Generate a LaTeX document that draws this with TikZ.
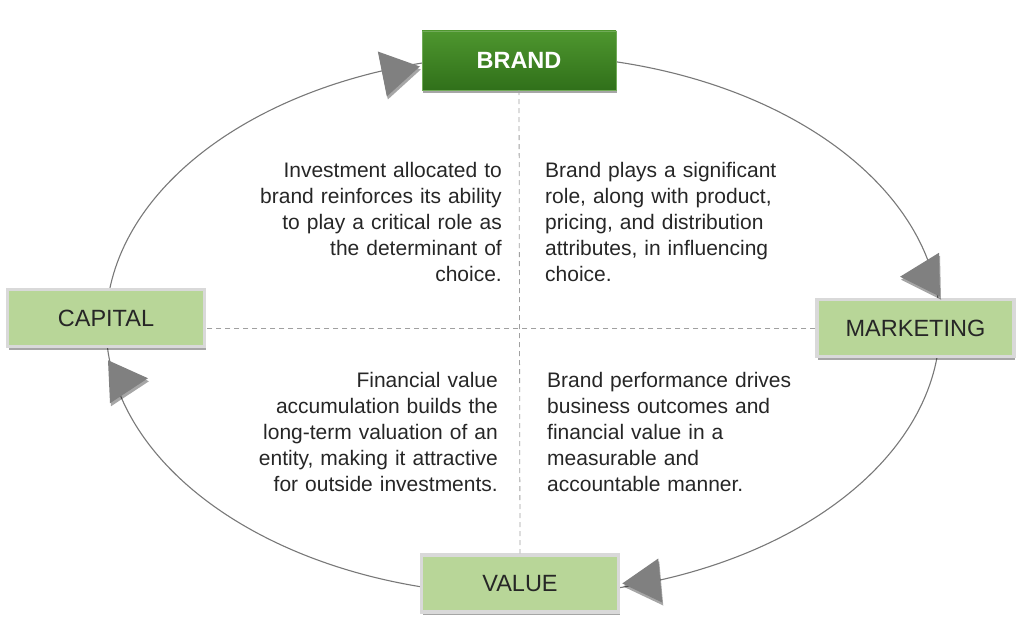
\documentclass[tikz,border=0pt]{standalone}
\usepackage{fontspec}
\setmainfont{Liberation Sans}
\usetikzlibrary{positioning,shadows,calc}
\definecolor{stagefill}{RGB}{184,214,152}
\definecolor{boxedge}{RGB}{217,217,217}
\definecolor{textgrey}{RGB}{38,38,38}
\definecolor{ringgrey}{RGB}{120,120,120}
\definecolor{dashgrey}{RGB}{160,160,160}
\definecolor{tipgrey}{RGB}{128,128,128}
\definecolor{brandtop}{RGB}{78,150,46}
\definecolor{brandbottom}{RGB}{48,112,26}
\tikzset{
    soft shadow/.style={drop shadow={shadow xshift=1pt,shadow yshift=-3pt,opacity=.35,fill=black}},
    stage box/.style={draw=boxedge,line width=3.5pt,fill=stagefill,minimum width=197pt,minimum height=57pt,
        text=textgrey,font=\fontsize{23.5}{26}\selectfont,soft shadow},
    brand box/.style={draw=brandtop!80!white,thin,top color=brandtop,bottom color=brandbottom,
        minimum width=194pt,minimum height=59pt,text=white,font=\fontsize{23.5}{26}\selectfont\bfseries,soft shadow},
    ring/.style={draw=ringgrey,line width=1.1pt},
    divider/.style={draw=dashgrey,line width=.8pt,dash pattern=on 5pt off 4pt},
    bigtip/.style={fill=tipgrey,soft shadow},
    note/.style={inner sep=0pt,text width=300pt,text=textgrey,font=\fontsize{21}{26}\selectfont},
}

\begin{document}
\begin{tikzpicture}[x=1pt,y=1pt]
    \useasboundingbox (0,0) rectangle (1024,633);
    \coordinate (centre) at (523,308);

    % the cycle
    \draw[ring] (centre) ++(175:417 and 270) arc[start angle=175,end angle=100,x radius=417,y radius=270];
    \draw[ring] (centre) ++(80:417 and 270) arc[start angle=80,end angle=3,x radius=417,y radius=270];
    \draw[ring] (centre) ++(-3:417 and 270) arc[start angle=-3,end angle=-80,x radius=417,y radius=270];
    \draw[ring] (centre) ++(-100:417 and 270) arc[start angle=-100,end angle=-178,x radius=417,y radius=270];

    \node[brand box] (brand) at (519,572.5) {BRAND};
    \node[stage box] (capital) at (106,315) {CAPITAL};
    \node[stage box] (marketing) at (915.5,305) {MARKETING};
    \node[stage box] (value) at (520,49.5) {VALUE};

    \draw[divider] (brand.south) -- (value.north);
    \draw[divider] (marketing.west) -- (marketing.west -| capital.east);

    \fill[bigtip] ([xshift=-2pt,yshift=-6pt]brand.west) -- ++(-42,15) -- ++(9,-45) -- cycle;
    \fill[bigtip] ([xshift=-15.5pt,yshift=21pt]marketing.north) -- ++(39,24) -- ++(1,-44) -- cycle;
    \fill[bigtip] ([xshift=2pt]value.east) -- ++(36,25) -- ++(4,-44) -- cycle;
    \fill[bigtip] ([xshift=42pt,yshift=-30pt]capital.south) -- ++(-40,18) -- ++(2,-43) -- cycle;

    \node[note,anchor=north east,align=right] (invest) at (502,471)
        {Investment allocated to\\brand reinforces its ability\\to play a critical role as\\the determinant of\\choice.};
    \node[note,anchor=north west,align=left] (plays) at (545,471)
        {Brand plays a significant\\role, along with product,\\pricing, and distribution\\attributes, in influencing\\choice.};
    \node[note,anchor=north east,align=right] (financial) at (498,261)
        {Financial value\\accumulation builds the\\long-term valuation of an\\entity, making it attractive\\for outside investments.};
    \node[note,anchor=north west,align=left] (performance) at (547,261)
        {Brand performance drives\\business outcomes and\\financial value in a\\measurable and\\accountable manner.};
\end{tikzpicture}
\end{document}
